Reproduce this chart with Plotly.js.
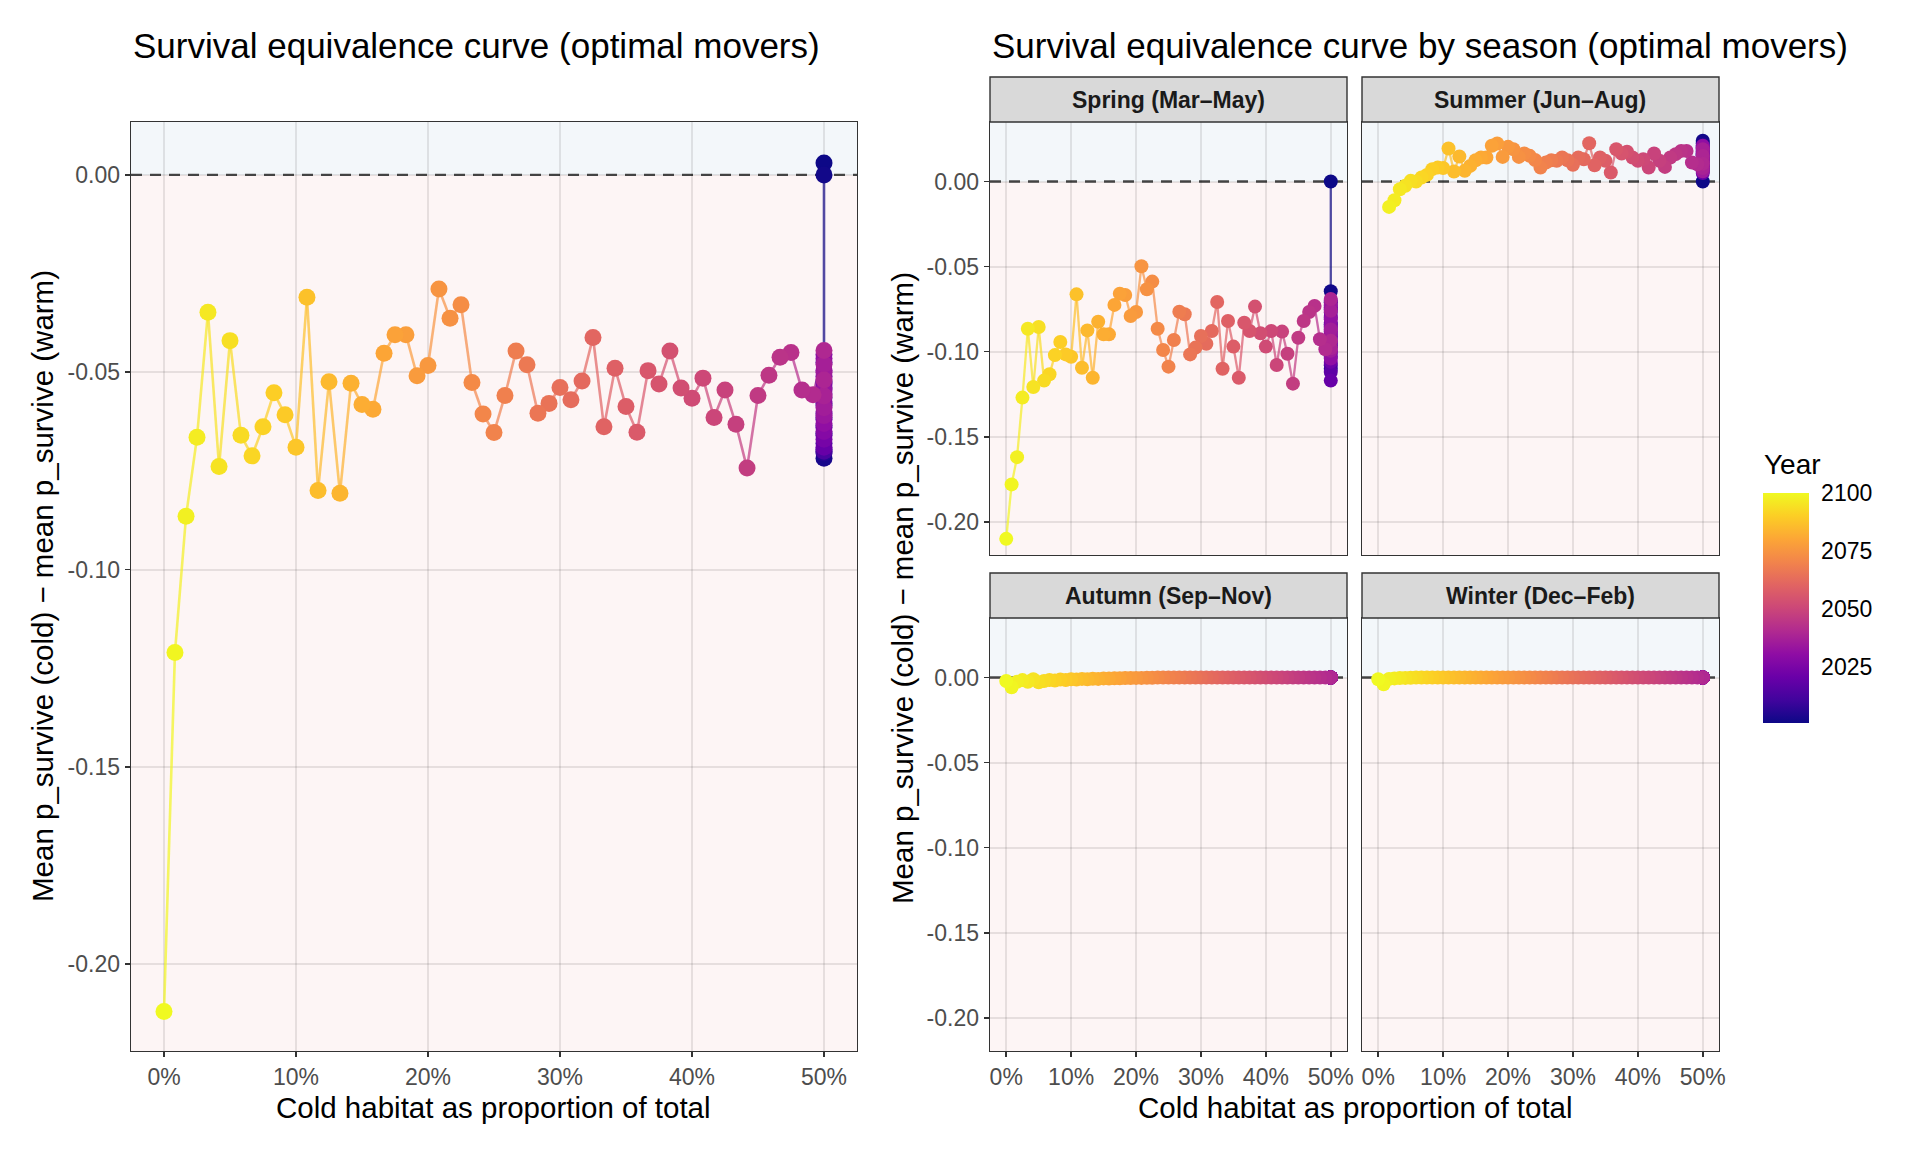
<!DOCTYPE html>
<html>
<head>
<meta charset="utf-8">
<script src="https://cdn.plot.ly/plotly-3.0.1.min.js"></script>
<style>
  body { margin: 0; background: #ffffff; }
  #plot { width: 1920px; height: 1152px; }
</style>
</head>
<body>
<div id="plot"></div>
<script>
// years, from 2100 (0% cold) down to 2001 (capped at 50%)
const years = [
  2100, 2099, 2098, 2097, 2096, 2095, 2094, 2093, 2092, 2091,
  2090, 2089, 2088, 2087, 2086, 2085, 2084, 2083, 2082, 2081,
  2080, 2079, 2078, 2077, 2076, 2075, 2074, 2073, 2072, 2071,
  2070, 2069, 2068, 2067, 2066, 2065, 2064, 2063, 2062, 2061,
  2060, 2059, 2058, 2057, 2056, 2055, 2054, 2053, 2052, 2051,
  2050, 2049, 2048, 2047, 2046, 2045, 2044, 2043, 2042, 2041,
  2040, 2039, 2038, 2037, 2036, 2035, 2034, 2033, 2032, 2031,
  2030, 2029, 2028, 2027, 2026, 2025, 2024, 2023, 2022, 2021,
  2020, 2019, 2018, 2017, 2016, 2015, 2014, 2013, 2012, 2011,
  2010, 2009, 2008, 2007, 2006, 2005, 2004, 2003, 2002, 2001
];

// cold habitat share (%)
const coldShare = [
  0, 0.83, 1.67, 2.5, 3.33, 4.17, 5, 5.83, 6.67, 7.5,
  8.33, 9.17, 10, 10.83, 11.67, 12.5, 13.33, 14.17, 15, 15.83,
  16.67, 17.5, 18.33, 19.17, 20, 20.83, 21.67, 22.5, 23.33, 24.17,
  25, 25.83, 26.67, 27.5, 28.33, 29.17, 30, 30.83, 31.67, 32.5,
  33.33, 34.17, 35, 35.83, 36.67, 37.5, 38.33, 39.17, 40, 40.83,
  41.67, 42.5, 43.33, 44.17, 45, 45.83, 46.67, 47.5, 48.33, 49.17,
  50, 50, 50, 50, 50, 50, 50, 50, 50, 50,
  50, 50, 50, 50, 50, 50, 50, 50, 50, 50,
  50, 50, 50, 50, 50, 50, 50, 50, 50, 50,
  50, 50, 50, 50, 50, 50, 50, 50, 50, 50
];

// difference in mean p_survive, all seasons
const overall = [
  -0.212, -0.121, -0.0865, -0.0665, -0.0348, -0.0739, -0.042, -0.066, -0.0712, -0.0638,
  -0.0552, -0.0608, -0.069, -0.031, -0.080, -0.0524, -0.0807, -0.0528, -0.0582, -0.0594,
  -0.0452, -0.0405, -0.0405, -0.0509, -0.0483, -0.0289, -0.0363, -0.0329, -0.0526, -0.0606,
  -0.0653, -0.0559, -0.0446, -0.0481, -0.0604, -0.0579, -0.0539, -0.057, -0.0522, -0.0412,
  -0.0638, -0.049, -0.0587, -0.0652, -0.0496, -0.053, -0.0446, -0.054, -0.0566, -0.0515,
  -0.0615, -0.0545, -0.0632, -0.0743, -0.0559, -0.0508, -0.0462, -0.045, -0.0545, -0.0557,
  -0.0445, -0.0520, -0.0560, -0.0480, -0.0590, -0.0500, -0.0610, -0.0545, -0.0465, -0.0630,
  -0.0575, -0.0495, -0.0650, -0.0530, -0.0600, -0.0455, -0.0670, -0.0555, -0.0620, -0.0510,
  -0.0690, -0.0585, -0.0640, -0.0475, -0.0660, -0.0540, -0.0605, -0.0700, -0.0565, -0.0680,
  -0.0615, -0.0525, -0.0695, -0.0635, -0.0580, -0.0705, -0.0655, -0.0718, 0.0000, 0.0030
];

const spring = [
  -0.210, -0.178, -0.162, -0.127, -0.0865, -0.1208, -0.0855, -0.117, -0.1133, -0.102,
  -0.0943, -0.1016, -0.103, -0.0663, -0.1094, -0.0875, -0.1153, -0.0824, -0.0898, -0.0898,
  -0.0725, -0.0659, -0.0667, -0.079, -0.0767, -0.0498, -0.0633, -0.0588, -0.0865, -0.099,
  -0.1088, -0.0931, -0.0765, -0.078, -0.1016, -0.0976, -0.0908, -0.0953, -0.0878, -0.0708,
  -0.110, -0.082, -0.097, -0.1153, -0.083, -0.0878, -0.0735, -0.0892, -0.097, -0.0878,
  -0.1078, -0.0882, -0.1012, -0.1188, -0.0918, -0.082, -0.0767, -0.0731, -0.0927, -0.0986,
  -0.0935, -0.0690, -0.0980, -0.0760, -0.0870, -0.0995, -0.0720, -0.0900, -0.0810, -0.1040,
  -0.0850, -0.0740, -0.0950, -0.0790, -0.1010, -0.0880, -0.0700, -0.0920, -0.1060, -0.0830,
  -0.1170, -0.0770, -0.1120, -0.0890, -0.1000, -0.0730, -0.0940, -0.1080, -0.0800, -0.0910,
  -0.0960, -0.0860, -0.0975, -0.0750, -0.1030, -0.0840, -0.1100, -0.0710, -0.0645, 0.0000
];

const summer = [
  null, null, -0.0149, -0.011, -0.0045, -0.0025, 0.0004, 0.0, 0.0024, 0.0039,
  0.0073, 0.0082, 0.008, 0.0194, 0.0059, 0.0147, 0.0063, 0.0092, 0.0125, 0.0141,
  0.0141, 0.021, 0.0224, 0.0145, 0.0204, 0.019, 0.0145, 0.0165, 0.0151, 0.0127,
  0.0082, 0.0112, 0.0125, 0.0122, 0.0141, 0.0125, 0.0098, 0.0141, 0.0131, 0.0225,
  0.0096, 0.0141, 0.0122, 0.0053, 0.019, 0.0165, 0.0175, 0.0141, 0.0122, 0.0131,
  0.0082, 0.0165, 0.0122, 0.0086, 0.0141, 0.0161, 0.018, 0.018, 0.0112, 0.0102,
  0.0105, 0.0150, 0.0080, 0.0190, 0.0120, 0.0060, 0.0170, 0.0135, 0.0095, 0.0210,
  0.0110, 0.0155, 0.0070, 0.0185, 0.0125, 0.0140, 0.0085, 0.0200, 0.0115, 0.0160,
  0.0050, 0.0175, 0.0130, 0.0100, 0.0195, 0.0145, 0.0090, 0.0165, 0.0120, 0.0205,
  0.0075, 0.0180, 0.0135, 0.0110, 0.0215, 0.0155, 0.0065, 0.0225, 0.0240, 0.0000
];

const autumn = [
  -0.0020, -0.0057, -0.0025, -0.0015, -0.0025, -0.0010, -0.0028, -0.0020, -0.0014, -0.0018,
  -0.0012, -0.0015, -0.0010, -0.0012, -0.0008, -0.0010, -0.0007, -0.0008, -0.0005, -0.0006,
  -0.0004, -0.0004, -0.0003, -0.0003, -0.0002, -0.0002, -0.0001, -0.0001, 0, 0,
  0, 0, 0, 0, 0, 0, 0, 0, 0, 0,
  0, 0, 0, 0, 0, 0, 0, 0, 0, 0,
  0, 0, 0, 0, 0, 0, 0, 0, 0, 0,
  0, 0, 0, 0, 0, 0, 0, 0, 0, 0,
  0, 0, 0, 0, 0, 0, 0, 0, 0, 0,
  0, 0, 0, 0, 0, 0, 0, 0, 0, 0,
  0, 0, 0, 0, 0, 0, 0, 0, 0, 0
];

const winter = [
  -0.0010, -0.0040, -0.0008, -0.0005, -0.0003, -0.0002, -0.0001, 0, 0, 0,
  0, 0, 0, 0, 0, 0, 0, 0, 0, 0,
  0, 0, 0, 0, 0, 0, 0, 0, 0, 0,
  0, 0, 0, 0, 0, 0, 0, 0, 0, 0,
  0, 0, 0, 0, 0, 0, 0, 0, 0, 0,
  0, 0, 0, 0, 0, 0, 0, 0, 0, 0,
  0, 0, 0, 0, 0, 0, 0, 0, 0, 0,
  0, 0, 0, 0, 0, 0, 0, 0, 0, 0,
  0, 0, 0, 0, 0, 0, 0, 0, 0, 0,
  0, 0, 0, 0, 0, 0, 0, 0, 0, 0
];

const seasonNames = ['Spring (Mar–May)', 'Summer (Jun–Aug)', 'Autumn (Sep–Nov)', 'Winter (Dec–Feb)'];
const yTickVals = [0, -0.05, -0.10, -0.15, -0.20];
const yTickText = ['0.00', '-0.05', '-0.10', '-0.15', '-0.20'];
const xTickVals = [0, 10, 20, 30, 40, 50];
const xTickText = ['0%', '10%', '20%', '30%', '40%', '50%'];
const yearTicks = [2025, 2050, 2075, 2100];

// plasma (viridis option C)
const plasmaHex = ['#0d0887', '#41049d', '#6a00a8', '#8f0da4', '#b12a90', '#cc4778',
                   '#e16462', '#f2844b', '#fca636', '#fcce25', '#f0f921'];
const plasmaScale = plasmaHex.map((c, i) => [i / (plasmaHex.length - 1), c]);
const yearMin = 2001, yearMax = 2100;

function hexRgb(h) {
  return [parseInt(h.slice(1, 3), 16), parseInt(h.slice(3, 5), 16), parseInt(h.slice(5, 7), 16)];
}
function plasma(year, alpha) {
  let t = (year - yearMin) / (yearMax - yearMin);
  t = Math.max(0, Math.min(1, t)) * (plasmaHex.length - 1);
  let i = Math.min(Math.floor(t), plasmaHex.length - 2);
  let f = t - i;
  let a = hexRgb(plasmaHex[i]), b = hexRgb(plasmaHex[i + 1]);
  let c = a.map((v, k) => Math.round(v + (b[k] - v) * f));
  return 'rgba(' + c[0] + ',' + c[1] + ',' + c[2] + ',' + alpha + ')';
}

const W = 1920, H = 1152;
const px = v => v / W;
const py = v => 1 - v / H;

const font = 'Liberation Sans, Arial, Helvetica, sans-serif';
const data = [];

function addPanel(vals, xa, ya, msize, lw, withScale) {
  // path segments, coloured by the older year like geom_path
  for (let i = 0; i < vals.length - 1; i++) {
    if (vals[i] === null || vals[i + 1] === null) continue;
    data.push({
      x: [coldShare[i], coldShare[i + 1]], y: [vals[i], vals[i + 1]],
      mode: 'lines', line: { color: plasma(years[i + 1], 0.7), width: lw },
      xaxis: xa, yaxis: ya, hoverinfo: 'skip', showlegend: false
    });
  }
  // points, oldest drawn first
  let xs = [], ys = [], cs = [];
  for (let i = vals.length - 1; i >= 0; i--) {
    if (vals[i] === null) continue;
    xs.push(coldShare[i]); ys.push(vals[i]); cs.push(years[i]);
  }
  let marker = { size: msize, color: cs, colorscale: plasmaScale, cmin: yearMin, cmax: yearMax,
                 line: { width: 0 }, showscale: withScale };
  if (withScale) {
    marker.colorbar = {
      x: px(1763), xanchor: 'left', y: py(608), yanchor: 'middle',
      len: 230, lenmode: 'pixels', thickness: 46, outlinewidth: 0,
      tickvals: yearTicks, ticks: 'outside', ticklen: 8,
      tickcolor: 'rgba(255,255,255,0)', tickwidth: 1,
      tickfont: { family: font, size: 23, color: '#000000' }, xpad: 0, ypad: 0
    };
  }
  data.push({ x: xs, y: ys, mode: 'markers', marker: marker,
              xaxis: xa, yaxis: ya, hoverinfo: 'skip', showlegend: false });
}

addPanel(overall, 'x', 'y', 17, 2.6, true);
addPanel(spring, 'x2', 'y2', 14, 2.3, false);
addPanel(summer, 'x3', 'y3', 14, 2.3, false);
addPanel(autumn, 'x4', 'y4', 14, 2.3, false);
addPanel(winter, 'x5', 'y5', 14, 2.3, false);

function axis(extra) {
  return Object.assign({
    showline: true, mirror: true, linecolor: '#333333', linewidth: 1.4,
    showgrid: true, gridcolor: 'rgba(0,0,0,0.09)', gridwidth: 2, zeroline: false,
    ticks: 'outside', ticklen: 5, tickwidth: 1.5, tickcolor: '#333333',
    tickfont: { family: font, size: 23, color: '#4d4d4d' }, fixedrange: true
  }, extra);
}

const leftRange = [-0.222, 0.0134];
const facetRange = [-0.2195, 0.035];
const xRange = [-2.5, 52.5];

const colL = [px(131), px(857)];
const col1 = [px(990), px(1347)];
const col2 = [px(1362), px(1719)];
const rowTop = [py(555), py(122)];
const rowBot = [py(1051), py(618)];
const rowLeft = [py(1051), py(122)];

const xa = (dom, anchor, labels) => axis({ domain: dom, anchor: anchor, range: xRange,
  tickvals: xTickVals, ticktext: xTickText, showticklabels: labels, ticks: labels ? 'outside' : '' });
const ya = (dom, anchor, range, labels) => axis({ domain: dom, anchor: anchor, range: range,
  tickvals: yTickVals, ticktext: yTickText, showticklabels: labels, ticks: labels ? 'outside' : '' });

const shapes = [];
const panels = [['x', 'y', leftRange], ['x2', 'y2', facetRange], ['x3', 'y3', facetRange],
                ['x4', 'y4', facetRange], ['x5', 'y5', facetRange]];
panels.forEach(([xr, yr, rg]) => {
  shapes.push({ type: 'rect', xref: xr + ' domain', yref: yr, x0: 0, x1: 1, y0: rg[0], y1: 0,
                fillcolor: '#fdf5f5', line: { width: 0 }, layer: 'below' });
  shapes.push({ type: 'rect', xref: xr + ' domain', yref: yr, x0: 0, x1: 1, y0: 0, y1: rg[1],
                fillcolor: '#f3f7fa', line: { width: 0 }, layer: 'below' });
});
// dashed reference line at zero, under the points
panels.forEach(([xr, yr]) => {
  shapes.push({ type: 'line', xref: xr + ' domain', yref: yr, x0: 0, x1: 1, y0: 0, y1: 0,
                line: { color: '#4a4a4a', width: 2.4, dash: '11px,8px' }, layer: 'below' });
});

// facet strips
const strips = [[col1, 77, 122], [col2, 77, 122], [col1, 573, 618], [col2, 573, 618]];
const annotations = [];
strips.forEach(([c, t, b], k) => {
  shapes.push({ type: 'rect', xref: 'paper', yref: 'paper', x0: c[0], x1: c[1], y0: py(b), y1: py(t),
                fillcolor: '#d9d9d9', line: { color: '#333333', width: 1.4 }, layer: 'above' });
  annotations.push({ text: '<b>' + seasonNames[k] + '</b>', xref: 'paper', yref: 'paper',
                     x: (c[0] + c[1]) / 2, y: py((t + b) / 2), xanchor: 'center', yanchor: 'middle',
                     showarrow: false, font: { family: font, size: 23, color: '#1a1a1a' } });
});

const ytitle = 'Mean p_survive (cold) − mean p_survive (warm)';
const xtitle = 'Cold habitat as proportion of total';
annotations.push(
  { text: 'Survival equivalence curve (optimal movers)', x: px(131), y: py(45), xanchor: 'left', yanchor: 'middle',
    xref: 'paper', yref: 'paper', showarrow: false, font: { family: font, size: 35, color: '#000000' } },
  { text: 'Survival equivalence curve by season (optimal movers)', x: px(990), y: py(45), xanchor: 'left', yanchor: 'middle',
    xref: 'paper', yref: 'paper', showarrow: false, font: { family: font, size: 35, color: '#000000' } },
  { text: ytitle, x: px(42), y: py(586), textangle: -90, xanchor: 'center', yanchor: 'middle',
    xref: 'paper', yref: 'paper', showarrow: false, font: { family: font, size: 29.5, color: '#000000' } },
  { text: ytitle, x: px(902), y: py(588), textangle: -90, xanchor: 'center', yanchor: 'middle',
    xref: 'paper', yref: 'paper', showarrow: false, font: { family: font, size: 29.5, color: '#000000' } },
  { text: xtitle, x: px(494), y: py(1107), xanchor: 'center', yanchor: 'middle',
    xref: 'paper', yref: 'paper', showarrow: false, font: { family: font, size: 29.5, color: '#000000' } },
  { text: xtitle, x: px(1355), y: py(1107), xanchor: 'center', yanchor: 'middle',
    xref: 'paper', yref: 'paper', showarrow: false, font: { family: font, size: 29.5, color: '#000000' } },
  { text: 'Year', x: px(1762), y: py(465), xanchor: 'left', yanchor: 'middle',
    xref: 'paper', yref: 'paper', showarrow: false, font: { family: font, size: 28, color: '#000000' } }
);

const layout = {
  width: W, height: H,
  margin: { l: 0, r: 0, t: 0, b: 0 },
  paper_bgcolor: '#ffffff', plot_bgcolor: '#ffffff',
  font: { family: font },
  showlegend: false,
  xaxis: xa(colL, 'y', true), yaxis: ya(rowLeft, 'x', leftRange, true),
  xaxis2: xa(col1, 'y2', false), yaxis2: ya(rowTop, 'x2', facetRange, true),
  xaxis3: xa(col2, 'y3', false), yaxis3: ya(rowTop, 'x3', facetRange, false),
  xaxis4: xa(col1, 'y4', true), yaxis4: ya(rowBot, 'x4', facetRange, true),
  xaxis5: xa(col2, 'y5', true), yaxis5: ya(rowBot, 'x5', facetRange, false),
  shapes: shapes, annotations: annotations
};

Plotly.newPlot('plot', data, layout, { staticPlot: true, displayModeBar: false });
</script>
</body>
</html>
